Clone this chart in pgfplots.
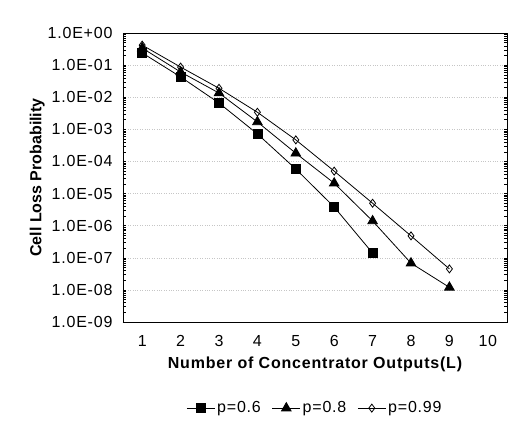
\documentclass[border=0pt]{standalone}
\usepackage{pgfplots}
\pgfplotsset{compat=1.18}
\usepackage{fontspec}
\setmainfont{Liberation Sans}
\newfontfamily\tickfont[LetterSpace=5]{Liberation Sans}
\newfontfamily\xlabfont[LetterSpace=5]{Liberation Sans}

\begin{document}
\begin{tikzpicture}
\begin{axis}[name=ax,
  scale only axis, width=384pt, height=289pt,
  ymode=log, ymin=1e-9, ymax=1,
  xmin=0.5, xmax=10.5,
  xtick={1,2,3,4,5,6,7,8,9,10},
  xticklabels={1,2,3,4,5,6,7,8,9,10},
  ytick={1e-9,1e-8,1e-7,1e-6,1e-5,1e-4,1e-3,1e-2,1e-1,1},
  yticklabels={1.0E-09,1.0E-08,1.0E-07,1.0E-06,1.0E-05,1.0E-04,1.0E-03,1.0E-02,1.0E-01,1.0E+00},
  minor ytick={},
  /pgf/number format/assume math mode=true,
  x tick style={draw=none},
  y tick style={black, line width=0.4pt},
  major tick length=3pt,
  tick align=inside,
  ymajorgrids=true,
  grid style={gray!45, dotted, line width=0.4pt},
  axis line style={black, line width=0.8pt},
  tick label style={font=\tickfont\fontsize{16}{18}\selectfont},
  xticklabel style={yshift=-10pt},
  yticklabel style={xshift=-7pt},
  xlabel={Number of Concentrator Outputs(L)},
  ylabel={Cell Loss Probability},
  xlabel style={font=\xlabfont\bfseries\fontsize{16}{18}\selectfont, yshift=-3pt},
  ylabel style={font=\bfseries\fontsize{16}{18}\selectfont, yshift=-4pt},
  legend columns=3,
  legend style={draw=none, fill=none, at={(0.5,-0.298)}, anchor=center,
    font=\tickfont\fontsize{16}{18}\selectfont,
    /tikz/every even column/.append style={column sep=9pt}},
  legend image code/.code={\draw[mark repeat=2, mark phase=2] plot coordinates {(0pt,0pt) (14pt,0pt) (28pt,0pt)};},
  legend cell align=left,
]
\addplot[black, line width=0.8pt, mark=square*, mark size=4.5pt, mark options={solid, fill=black}] coordinates {
(1, 0.24) (2, 0.043) (3, 0.0066) (4, 0.00072) (5, 0.000058) (6, 0.0000038) (7, 0.00000014)
};
\addlegendentry{p=0.6}
\addplot[black, line width=0.8pt, mark=triangle*, mark size=5.5pt, mark options={solid, fill=black}] coordinates {
(1, 0.34) (2, 0.061) (3, 0.0135) (4, 0.0017) (5, 0.00018) (6, 0.000021) (7, 0.0000014) (8, 0.000000068) (9, 0.000000012)
};
\addlegendentry{p=0.8}
\addplot[black, line width=0.8pt, mark=diamond, mark size=4pt, mark options={solid, fill=white, line width=0.8pt}] coordinates {
(1, 0.42) (2, 0.087) (3, 0.019) (4, 0.0034) (5, 0.00047) (6, 0.00005) (7, 0.000005) (8, 0.00000048) (9, 0.000000045)
};
\addlegendentry{p=0.99}
\end{axis}
\path[use as bounding box] ([xshift=-123pt,yshift=-103pt]ax.south west) rectangle ([xshift=3pt,yshift=33pt]ax.north east);
\end{tikzpicture}
\end{document}
